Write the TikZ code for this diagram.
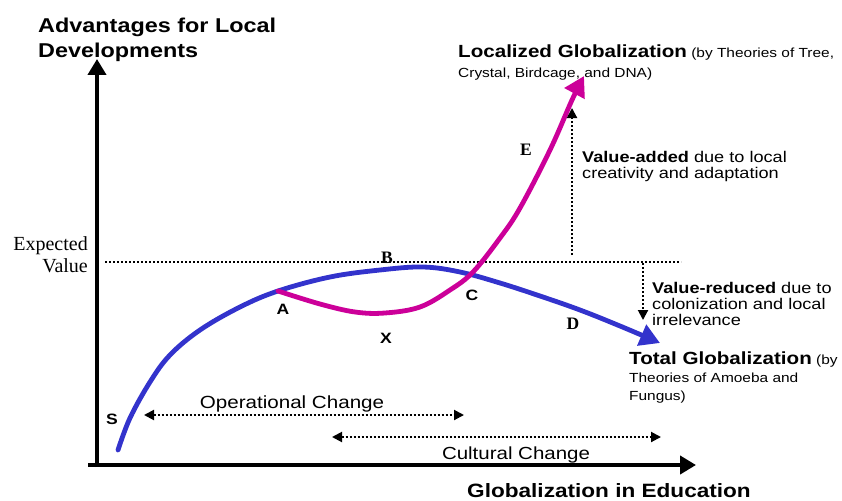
\documentclass[tikz,border=0pt]{standalone}
\usepackage{fontspec}
\setmainfont{Liberation Sans}[FakeStretch=1.17]
\newfontfamily\seriffont{Liberation Serif}
\usetikzlibrary{arrows.meta}
\definecolor{cblue}{RGB}{51,51,204}
\definecolor{cmag}{RGB}{204,0,153}
\begin{document}
\begin{tikzpicture}[x=1pt,y=-1pt,
  axis/.style={line width=4pt,-{Triangle[length=16pt,width=18pt]}},
  dotline/.style={line width=2pt,dash pattern=on 2pt off 2pt},
  dotarrow/.style={dotline,-{Triangle[length=10pt,width=10pt]}},
  dotdouble/.style={dotline,{Triangle[length=10pt,width=10pt]}-{Triangle[length=10pt,width=10pt]}},
  curvelbl/.style={font=\bfseries\fontsize{15}{15}\selectfont,inner sep=0pt,anchor=base},
  seriflbl/.style={font=\seriffont\bfseries\fontsize{17.5}{17.5}\selectfont,inner sep=0pt,anchor=base},
  txt/.style={inner sep=0pt,align=left,anchor=north west}]
\useasboundingbox (0,0) rectangle (842,500);
% axes
\coordinate (ytop) at (97,59);
\coordinate (ybot) at (97,467);
\coordinate (xleft) at (88,465);
\coordinate (xright) at (696,465);
\draw[axis] (ybot) -- (ytop);
\draw[axis] (xleft) -- (xright);
\node[txt,font=\bfseries\fontsize{20}{25}\selectfont] (ytitle) at (38,18) {Advantages for Local\\Developments};
\node[inner sep=0pt,anchor=base west,font=\bfseries\fontsize{19.3}{19.3}\selectfont] (xtitle) at (467,497) {Globalization in Education};
% expected value
\node[inner sep=0pt,align=right,anchor=north east,font=\seriffont\fontsize{20}{22}\selectfont] (ev) at (88,236) {Expected\\Value};
\coordinate (evl) at (105,262);
\coordinate (evr) at (681,262);
\draw[dotline] (evl) -- (evr);
% blue curve
\draw[cblue,line width=4.8pt,line cap=round,-{Triangle[length=20pt,width=22pt]}] plot[smooth,tension=0.6] coordinates{(118,450)(130,418)(150,382)(170,355)(200,330)(240,307)(278,291)(330,277)(380,270)(423,267)(460,272)(500,283)(540,296)(580,310)(620,326)(660,343)};
% magenta curve
\draw[cmag,line width=4.8pt,line cap=round,-{Triangle[length=20pt,width=22pt]}] plot[smooth,tension=0.6] coordinates{(278,291)(320,304)(355,312)(385,313)(420,307)(450,290)(473,272)(500,238)(520,208)(550,150)(572,100)(584,76)};
% labels on curves
\node[curvelbl] (A) at (283,314) {A};
\node[curvelbl] (X) at (386,343) {X};
\node[curvelbl] (C) at (472,300) {C};
\node[curvelbl] (S) at (112,424) {S};
\node[seriflbl] (B) at (387,263) {B};
\node[seriflbl] (D) at (573,329) {D};
\node[seriflbl] (E) at (526,155) {E};
% value-added
\coordinate (vab) at (572,255);
\coordinate (vat) at (572,108);
\draw[dotarrow] (vab) -- (vat);
\node[txt,font=\fontsize{15.5}{15.5}\selectfont] (va) at (582,151.5) {\textbf{Value-added} due to local\\creativity and adaptation};
% value-reduced
\coordinate (vrt) at (643,263);
\coordinate (vrb) at (643,320);
\draw[dotarrow] (vrt) -- (vrb);
\node[txt,font=\fontsize{15.5}{16}\selectfont] (vr) at (652,282.5) {\textbf{Value-reduced} due to\\colonization and local\\irrelevance};
% localized globalization
\node[txt,font=\fontsize{13.2}{20}\selectfont] (lg) at (458,45) {{\bfseries\fontsize{17.6}{20}\selectfont Localized Globalization} (by Theories of Tree,\\Crystal, Birdcage, and DNA)};
% total globalization
\node[txt,font=\fontsize{13.2}{18}\selectfont] (tg) at (629,352) {{\bfseries\fontsize{17.6}{18}\selectfont Total Globalization} (by\\Theories of Amoeba and\\Fungus)};
% change arrows
\coordinate (opl) at (144,415);
\coordinate (opr) at (464,415);
\draw[dotdouble] (opl) -- (opr);
\node[inner sep=0pt,anchor=base,font=\fontsize{17.6}{17.6}\selectfont] (op) at (292,408) {Operational Change};
\coordinate (cul) at (332,437);
\coordinate (cur) at (661,437);
\draw[dotdouble] (cul) -- (cur);
\node[inner sep=0pt,anchor=base,font=\fontsize{17.5}{17.5}\selectfont] (cu) at (516,459) {Cultural Change};
\end{tikzpicture}
\end{document}
